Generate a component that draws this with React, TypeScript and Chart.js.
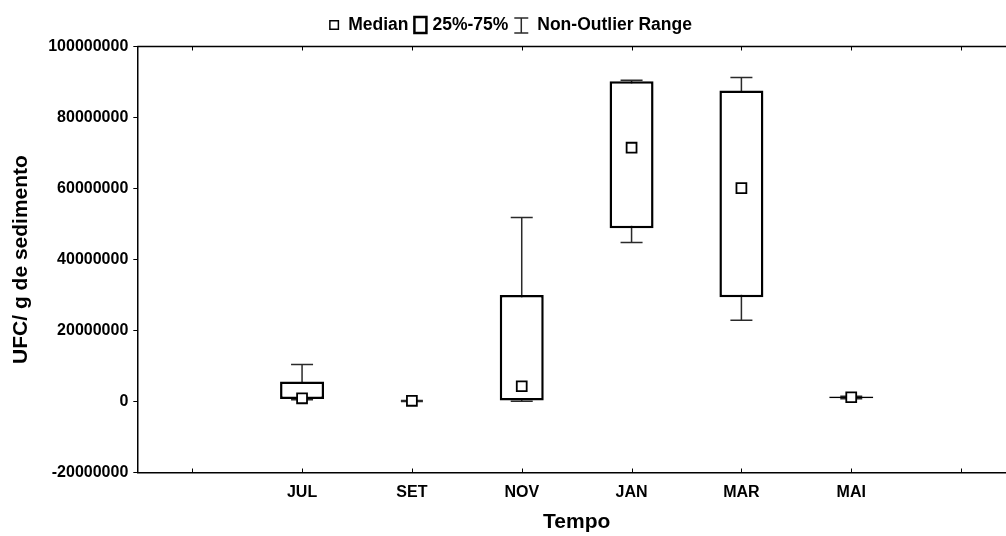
import { useEffect, useRef } from 'react';
import { Chart, registerables } from 'chart.js';

Chart.register(...registerables);

const FONT = '"Liberation Sans", Arial, Helvetica, sans-serif';
Chart.defaults.font.family = FONT;
Chart.defaults.color = '#000';

// Axis categories (blank slots at both ends of the time axis)
const categories = ['', 'JUL', 'SET', 'NOV', 'JAN', 'MAR', 'MAI', ''];
const positions = [1, 2, 3, 4, 5, 6];

// Box-plot statistics per month (UFC / g de sedimento)
const minValues = [500000, 0, 100000, 44800000, 22900000, 800000];
const q1Values = [700000, 200000, 300000, 48800000, 29400000, 900000];
const medianValues = [900000, 200000, 4300000, 71500000, 60100000, 1200000];
const q3Values = [5600000, 200000, 30000000, 90200000, 87600000, 1400000];
const maxValues = [10400000, 300000, 51800000, 90500000, 91300000, 1500000];

const yTicks = [-20000000, 0, 20000000, 40000000, 60000000, 80000000, 100000000];
const legendLabels = ['Median', '25%-75%', 'Non-Outlier Range'];

const WHISKER = '#2a2a2a';

// Frame: top border line plus inward tick marks on the top and bottom edges
const frameTicks = {
  id: 'frameTicks',
  afterDraw(chart: any) {
    const { ctx, chartArea, scales } = chart;
    const { left, right, top, bottom } = chartArea;
    const x = scales.x;
    ctx.save();
    ctx.strokeStyle = '#000';
    ctx.lineWidth = 1.5;
    ctx.beginPath();
    ctx.moveTo(left, top);
    ctx.lineTo(right, top);
    ctx.stroke();
    ctx.lineWidth = 1;
    ctx.beginPath();
    x.ticks.forEach((t: any) => {
      const px = Math.round(x.getPixelForValue(t.value)) + 0.5;
      ctx.moveTo(px, bottom);
      ctx.lineTo(px, bottom - 4);
      ctx.moveTo(px, top);
      ctx.lineTo(px, top + 4);
    });
    ctx.stroke();
    ctx.restore();
  },
};

// Legend row: median square, quartile box and whisker symbol with their labels
const boxLegend = {
  id: 'boxLegend',
  afterDraw(chart: any) {
    const { ctx } = chart;
    const cy = 25;
    const font = `bold 17.5px ${FONT}`;
    ctx.save();
    ctx.font = font;
    const glyphW = [10, 14, 16];
    const gapAfterGlyph = [9, 5, 8];
    const gapAfterText = 5;
    const textW = legendLabels.map((l) => ctx.measureText(l).width);
    let total = 0;
    legendLabels.forEach((_, i) => {
      total += glyphW[i] + gapAfterGlyph[i] + textW[i];
      if (i < legendLabels.length - 1) total += gapAfterText;
    });
    let x = 510.5 - total / 2;
    ctx.fillStyle = '#000';
    ctx.textBaseline = 'middle';
    ctx.textAlign = 'left';
    legendLabels.forEach((label, i) => {
      if (i === 0) {
        ctx.strokeStyle = '#000';
        ctx.lineWidth = 1.5;
        ctx.strokeRect(x + 0.75, cy - 4.25, 8.5, 8.5);
      } else if (i === 1) {
        ctx.strokeStyle = '#000';
        ctx.lineWidth = 2.5;
        ctx.strokeRect(x + 1, cy - 8, 12, 16);
      } else {
        ctx.strokeStyle = WHISKER;
        ctx.lineWidth = 1.5;
        ctx.beginPath();
        ctx.moveTo(x + 1, cy - 7);
        ctx.lineTo(x + 15, cy - 7);
        ctx.moveTo(x + 8, cy - 7);
        ctx.lineTo(x + 8, cy + 8);
        ctx.moveTo(x + 1, cy + 8);
        ctx.lineTo(x + 15, cy + 8);
        ctx.stroke();
      }
      x += glyphW[i] + gapAfterGlyph[i];
      ctx.fillText(label, x, cy);
      x += textW[i] + gapAfterText;
    });
    ctx.restore();
  },
};

export default function App() {
  const canvasRef = useRef<HTMLCanvasElement | null>(null);

  useEffect(() => {
    const canvas = canvasRef.current;
    if (!canvas) return;

    const chart = new Chart(canvas, {
      type: 'bar',
      data: {
        datasets: [
          {
            type: 'bar',
            label: 'whisker',
            data: positions.map((p, i) => ({ x: p, y: [minValues[i], maxValues[i]] })) as any,
            backgroundColor: WHISKER,
            borderWidth: 0,
            barThickness: 1.5,
            grouped: false,
            inflateAmount: 0,
            order: 4,
          } as any,
          {
            type: 'scatter',
            label: 'caps',
            data: [
              ...positions.map((p, i) => ({ x: p, y: minValues[i] })),
              ...positions.map((p, i) => ({ x: p, y: maxValues[i] })),
            ],
            pointStyle: 'line',
            pointRadius: 11,
            pointHoverRadius: 11,
            borderColor: WHISKER,
            borderWidth: 1.5,
            order: 3,
          } as any,
          {
            type: 'bar',
            label: '25%-75%',
            data: positions.map((p, i) => ({ x: p, y: [q1Values[i], q3Values[i]] })) as any,
            backgroundColor: '#fff',
            borderColor: '#000',
            borderWidth: 2.5,
            borderSkipped: false,
            barThickness: 44,
            grouped: false,
            inflateAmount: 0,
            order: 2,
          } as any,
          {
            type: 'scatter',
            label: 'Median',
            data: positions.map((p, i) => ({ x: p, y: medianValues[i] })),
            pointStyle: 'rect',
            pointRadius: 7,
            pointHoverRadius: 7,
            backgroundColor: '#fff',
            borderColor: '#000',
            borderWidth: 1.8,
            order: 1,
          } as any,
        ],
      },
      options: {
        animation: false,
        responsive: false,
        devicePixelRatio: 1,
        events: [],
        layout: { autoPadding: false, padding: { top: 46.5, left: 0, right: 0, bottom: 0 } },
        plugins: {
          legend: { display: false },
          tooltip: { enabled: false },
        },
        scales: {
          x: {
            type: 'linear',
            offset: false,
            min: -0.5,
            max: 7.5,
            afterBuildTicks: (s: any) => {
              s.ticks = categories.map((_, i) => ({ value: i }));
            },
            afterFit: (s: any) => {
              s.height = 63.5;
              s.paddingLeft = 0;
              s.paddingRight = 0;
            },
            ticks: {
              autoSkip: false,
              maxRotation: 0,
              padding: 10,
              color: '#000',
              font: { size: 16, weight: 'bold' },
              callback: (v: any) => categories[v] ?? '',
            },
            grid: { display: false, drawTicks: false },
            border: { display: true, color: '#000', width: 1.5 },
            title: {
              display: true,
              text: 'Tempo',
              color: '#000',
              font: { size: 21, weight: 'bold' },
              padding: { top: 0, bottom: 1 },
            },
          },
          y: {
            type: 'linear',
            min: -20000000,
            max: 100000000,
            afterBuildTicks: (s: any) => {
              s.ticks = yTicks.map((v) => ({ value: v }));
            },
            afterFit: (s: any) => {
              s.width = 137.3;
            },
            ticks: {
              padding: 5,
              color: '#000',
              font: { size: 16, weight: 'bold' },
              callback: (v: any) => String(v),
            },
            grid: {
              drawOnChartArea: false,
              drawTicks: true,
              tickLength: 4,
              color: '#000',
              lineWidth: 1,
            },
            border: { display: true, color: '#000', width: 1.5 },
            title: {
              display: true,
              text: 'UFC/ g de sedimento',
              color: '#000',
              font: { size: 21, weight: 'bold' },
              padding: { top: 9, bottom: 0 },
            },
          },
        },
      } as any,
      plugins: [frameTicks, boxLegend],
    });

    return () => chart.destroy();
  }, []);

  return (
    <div
      style={{
        position: 'absolute',
        left: 0,
        top: 0,
        width: 1006,
        height: 536,
        overflow: 'hidden',
        background: '#fff',
      }}
    >
      <canvas ref={canvasRef} width={1016} height={536} style={{ display: 'block' }} />
    </div>
  );
}
